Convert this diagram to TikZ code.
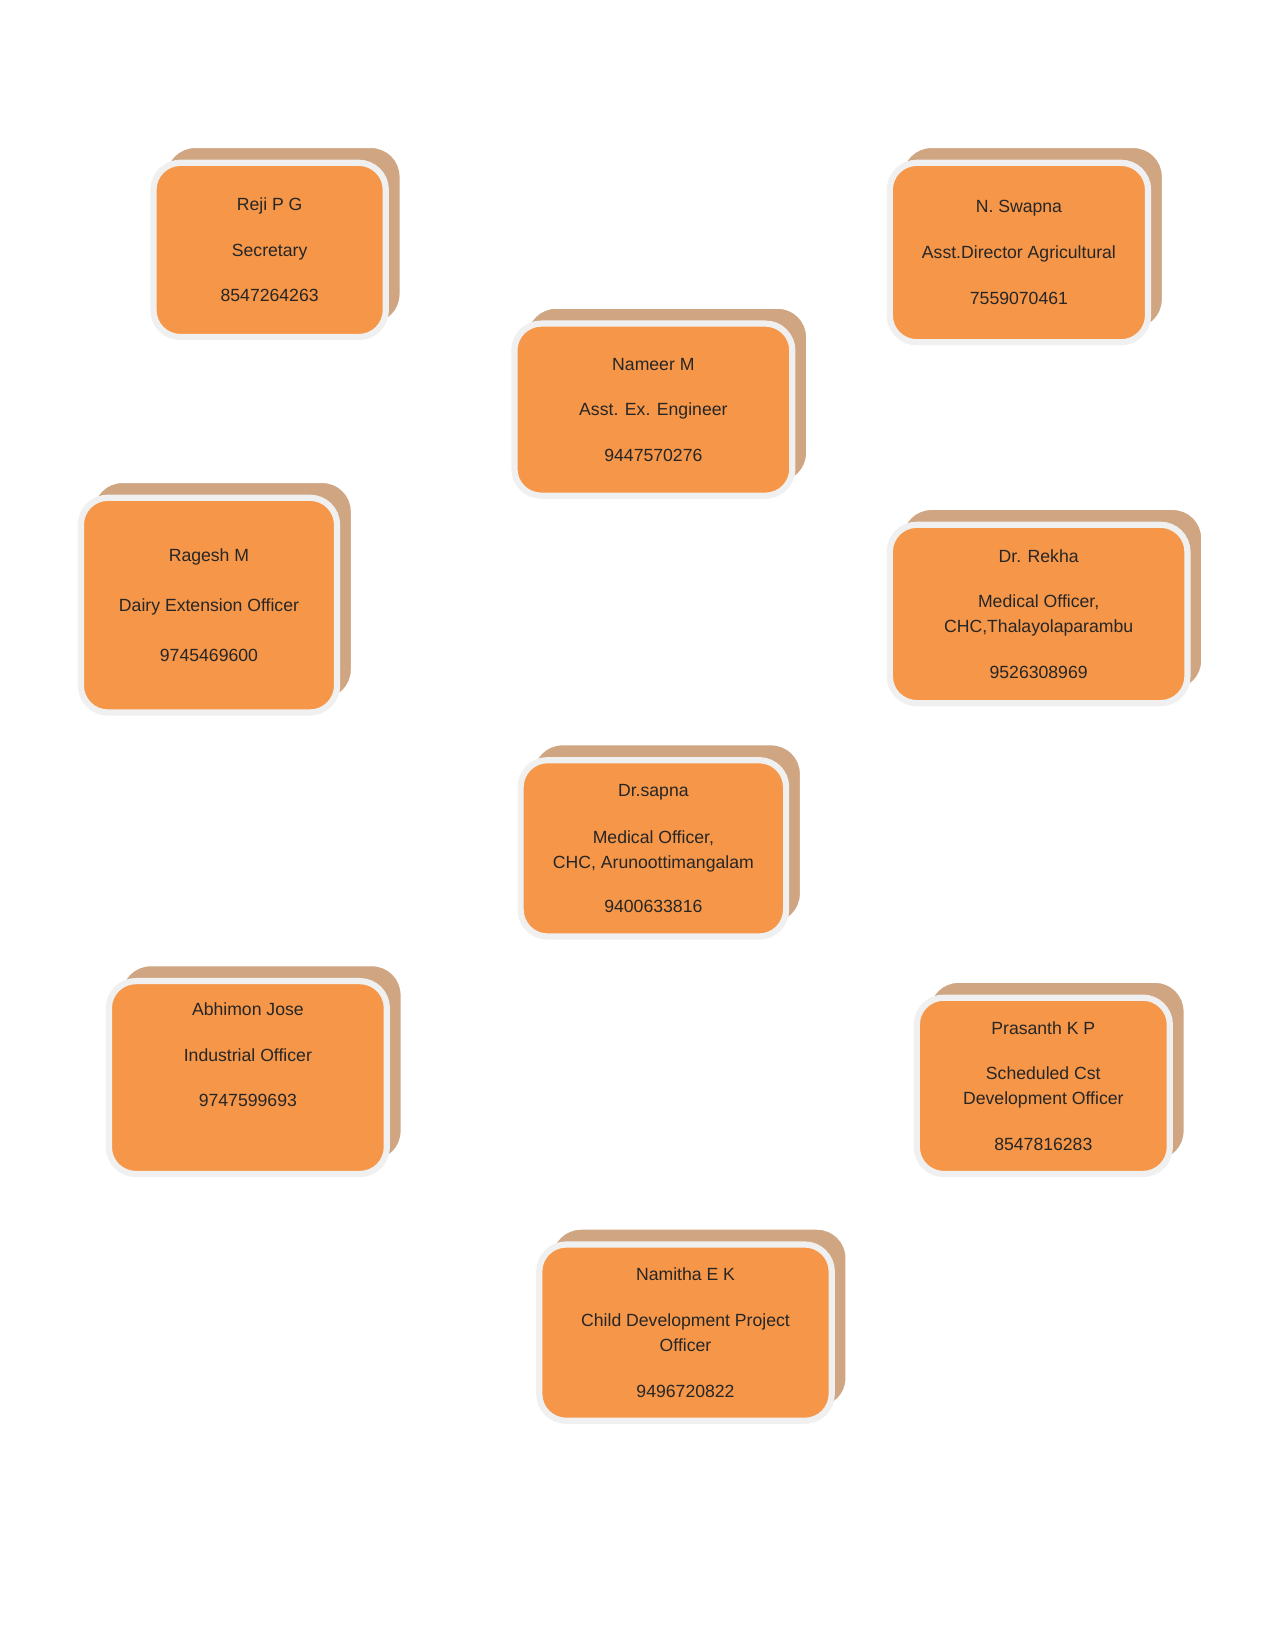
\documentclass[tikz,border=0pt]{standalone}
\usepackage{fontspec}
\setmainfont{Liberation Sans}
\definecolor{cardtan}{RGB}{207,165,130}
\definecolor{cardorange}{RGB}{245,150,72}
\definecolor{cardrim}{RGB}{240,240,240}
\tikzset{
  back/.style={fill=cardtan, draw=white, line width=1.5pt, rounded corners=28pt},
  front/.style={fill=cardorange, draw=cardrim, line width=6pt, rounded corners=26pt},
  info/.style={font=\fontsize{17}{24}\selectfont, align=center, text=black!85}
}
% card: x1,y1,x2,y2 of the front face (y downward), back face offset
\newcommand{\card}[6]{%
  \draw[back] (#2+12,#3-15) rectangle (#4+14,#5-13);
  \draw[front] (#2,#3) rectangle (#4,#5);
  \node[info] (#1) at ({(#2+#4)/2},{(#3+#5)/2}) {#6};
}
\begin{document}
\begin{tikzpicture}[x=1pt, y=-1pt]
\useasboundingbox (0,0) rectangle (1230,1591);

\card{reji}{148}{157}{372}{325}{Reji P G\\[20pt]Secretary\\[20pt]8547264263}
\card{swapna}{858}{157}{1107}{330}{N. Swapna\\[20pt]Asst.Director Agricultural\\[20pt]7559070461}
\card{nameer}{496}{312}{764}{478}{Nameer M\\[20pt]Asst. Ex. Engineer\\[20pt]9447570276}
\card{ragesh}{78}{480}{325}{687}{Ragesh M\\[24pt]Dairy Extension Officer\\[24pt]9745469600}
\card{rekha}{858}{506}{1145}{678}{Dr. Rekha\\[20pt]Medical Officer,\\CHC,Thalayolaparambu\\[20pt]9526308969}
\card{sapna}{502}{733}{758}{903}{Dr.sapna\\[22pt]Medical Officer,\\CHC, Arunoottimangalam\\[18pt]9400633816}
\card{abhimon}{105}{946}{373}{1132}{Abhimon Jose\\[20pt]Industrial Officer\\[20pt]9747599693\\[20pt]\mbox{}}
\card{prasanth}{884}{962}{1128}{1132}{Prasanth K P\\[20pt]Scheduled Cst\\Development Officer\\[20pt]8547816283}
\card{namitha}{520}{1200}{802}{1370}{Namitha E K\\[20pt]Child Development Project\\Officer\\[20pt]9496720822}
\end{tikzpicture}
\end{document}
